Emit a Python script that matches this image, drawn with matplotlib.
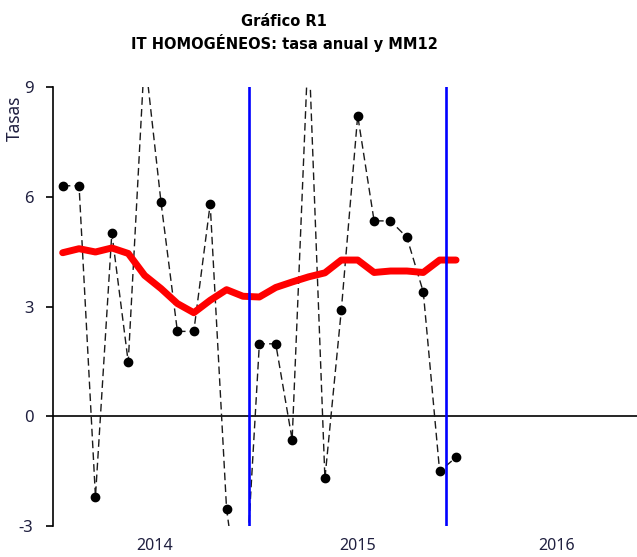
import matplotlib
matplotlib.use("Agg")
import matplotlib.pyplot as plt
import numpy as np

plt.rcParams["font.family"] = ["Noto Sans", "DejaVu Sans"]

# monthly data, Jan 2014 .. Jan 2016
meses = np.arange(25)
tasa_anual = [6.30, 6.30, -2.20, 5.01, 1.48, 9.9, 5.85, 2.32, 2.32, 5.80, -2.54, -5.8,
              1.98, 1.98, -0.64, 10.3, -1.70, 2.90, 8.22, 5.34, 5.34, 4.89, 3.40, -1.51,
              -1.12]
mm12 = [4.47, 4.58, 4.49, 4.60, 4.45, 3.85, 3.49, 3.08, 2.83, 3.17, 3.46, 3.28,
        3.26, 3.52, 3.67, 3.81, 3.92, 4.27, 4.27, 3.93, 3.97, 3.97, 3.93, 4.27,
        4.27]
cortes = [11.37, 23.37]
anios = ["2014", "2015", "2016"]
pos_anios = [5.63, 17.97, 30.16]
yticks = [-3, 0, 3, 6, 9]

color_txt = "#202040"

fig = plt.figure(figsize=(6.37, 5.57), dpi=100)
ax = fig.add_axes([53 / 637, 1 - 526 / 557, 1 - 53 / 637, (526 - 87) / 557])

ax.plot(meses, tasa_anual, color="#1a1a1a", lw=1.0, dashes=(5.5, 3),
        marker="o", markersize=6, markerfacecolor="black", markeredgecolor="black",
        zorder=3)
ax.plot(meses, mm12, color="#ff0000", lw=5, solid_capstyle="round",
        solid_joinstyle="round", zorder=4)
for c in cortes:
    ax.axvline(c, color="#0000ff", lw=1.9, zorder=5)
ax.axhline(0, color="black", lw=1.2, zorder=2)

ax.set_xlim(-0.59, 35.04)
ax.set_ylim(-3, 9)

for s in ["top", "right", "bottom"]:
    ax.spines[s].set_visible(False)
ax.spines["left"].set_linewidth(1.2)

ax.set_yticks(yticks)
ax.set_yticklabels([str(v) for v in yticks], fontsize=12, color=color_txt)
ax.tick_params(axis="y", direction="out", length=5, width=1.2, pad=9)
ax.set_xticks(pos_anios)
ax.set_xticklabels(anios, fontsize=11.5, color=color_txt)
ax.tick_params(axis="x", length=0, pad=9)

fig.text(15 / 637, 1 - 118 / 557, "Tasas", rotation=90, ha="center", va="center",
         fontsize=12.5, color=color_txt)
fig.text(284 / 637, 1 - 22 / 557, "Gráfico R1", ha="center", va="center",
         fontsize=10.5, fontweight="bold", family="DejaVu Sans", color="black")
fig.text(284 / 637, 1 - 43 / 557, "IT HOMOGÉNEOS: tasa anual y MM12", ha="center",
         va="center", fontsize=10.5, fontweight="bold", family="DejaVu Sans",
         color="black")

fig.savefig("out.png", dpi=100)
